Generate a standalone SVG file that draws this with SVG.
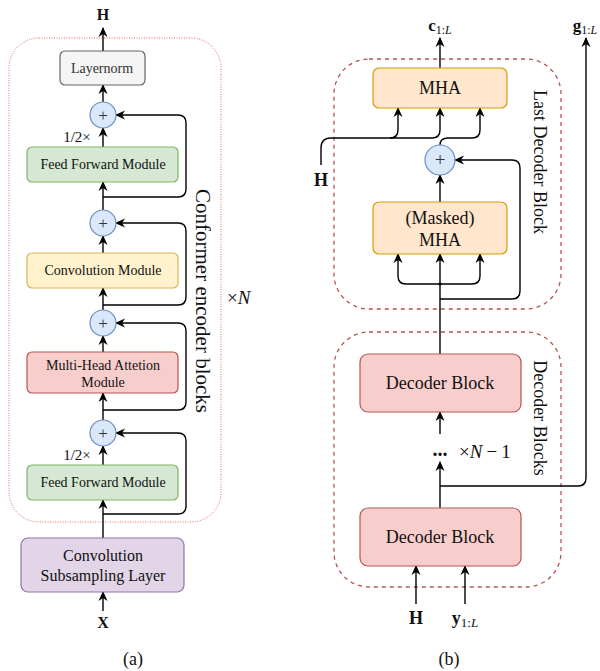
<svg xmlns="http://www.w3.org/2000/svg" width="600" height="671" viewBox="0 0 600 671" font-family="'Liberation Serif', 'Times New Roman', serif">
<style>
text{font-family:"Liberation Serif","Times New Roman",serif;fill:#111}
.t14{font-family:"Liberation Serif",serif;font-size:14px;text-anchor:middle}
.t18{font-family:"Liberation Serif",serif;font-size:18px;text-anchor:middle}
.b{font-weight:bold}
.box{stroke-width:1.2}
.ln{fill:none;stroke:#000;stroke-width:1.4}
.arr{marker-end:url(#ah)}
.plus{fill:#dae8fc;stroke:#6c8ebf;stroke-width:1.2}
.pt{font-size:17px;text-anchor:middle;fill:#333}
</style>
<defs>
<marker id="ah" viewBox="0 0 10 10" refX="9" refY="5" markerWidth="10" markerHeight="10" markerUnits="userSpaceOnUse" orient="auto">
<path d="M0,0.5 L10,5 L0,9.5 L3,5 z" fill="#000"/>
</marker>
</defs>

<!-- containers -->
<rect x="9" y="38" width="212" height="484" rx="30" fill="none" stroke="#e06666" stroke-width="1" stroke-dasharray="1 1.5"/>
<rect x="334" y="59" width="227" height="250" rx="35" fill="none" stroke="#b85450" stroke-width="1.3" stroke-dasharray="4 4"/>
<rect x="334" y="332" width="227" height="255" rx="35" fill="none" stroke="#b85450" stroke-width="1.3" stroke-dasharray="4 4"/>

<g id="connectors">
<!-- left -->
<path class="ln arr" d="M103,51 V28"/>
<path class="ln arr" d="M103,102 V85"/>
<path class="ln arr" d="M103,147 V128"/>
<path class="ln arr" d="M103,210 V182"/>
<path class="ln arr" d="M103,197 H178 Q186,197 186,189 V123 Q186,115 178,115 H116"/>
<path class="ln arr" d="M103,253 V236"/>
<path class="ln arr" d="M103,310 V288"/>
<path class="ln arr" d="M103,305 H178 Q186,305 186,297 V231 Q186,223 178,223 H116"/>
<path class="ln arr" d="M103,352 V336"/>
<path class="ln arr" d="M103,420 V393"/>
<path class="ln arr" d="M103,410 H178 Q186,410 186,402 V331 Q186,323 178,323 H116"/>
<path class="ln arr" d="M103,465 V446"/>
<path class="ln arr" d="M103,538 V500"/>
<path class="ln arr" d="M103,514 H178 Q186,514 186,506 V441 Q186,433 178,433 H116"/>
<path class="ln arr" d="M103,611 V592"/>
<!-- right -->
<path class="ln arr" d="M440,68 V38"/>
<path class="ln arr" d="M321,165 V148 Q321,138 331,138 H432 Q440,138 440,130 V108"/>
<path class="ln arr" d="M390,138 Q398,138 398,130 V108"/>
<path class="ln arr" d="M440,145 Q440,138 448,138 H472 Q480,138 480,130 V108"/>
<path class="ln arr" d="M440,299 H512 Q520,299 520,291 V168 Q520,160 512,160 H455"/>
<path class="ln arr" d="M440,202 V175"/>
<path class="ln arr" d="M440,354 V254"/>
<path class="ln arr" d="M440,284 H406 Q398,284 398,276 V254"/>
<path class="ln arr" d="M440,284 H472 Q480,284 480,276 V254"/>
<circle cx="440" cy="284" r="1.6" fill="#000"/>
<path class="ln arr" d="M440,434 V412"/>
<path class="ln arr" d="M440,508 V462"/>
<path class="ln arr" d="M440,486 H578 Q586,486 586,478 V38"/>
<path class="ln arr" d="M416,604 V566"/>
<path class="ln arr" d="M465,604 V566"/>
</g>

<!-- left nodes -->
<g id="layernorm">
<rect class="box" x="60" y="51" width="85" height="34" rx="5" fill="#f5f5f5" stroke="#666"/>
<text class="t14" x="102" y="73" style="fill:#333">Layernorm</text>
</g>
<g id="plus1"><circle class="plus" cx="103" cy="115" r="13"/><text class="pt" x="103" y="121">+</text></g>
<g id="ff1">
<rect class="box" x="27" y="147" width="151" height="35" rx="5" fill="#d5e8d4" stroke="#82b366"/>
<text class="t14" x="103" y="169">Feed Forward Module</text>
</g>
<text x="77" y="142" style="font-size:15px;text-anchor:middle">1/2×</text>
<g id="plus2"><circle class="plus" cx="103" cy="223" r="13"/><text class="pt" x="103" y="229">+</text></g>
<g id="conv">
<rect class="box" x="27" y="253" width="151" height="35" rx="5" fill="#fff2cc" stroke="#d6b656"/>
<text class="t14" x="103" y="275">Convolution Module</text>
</g>
<g id="plus3"><circle class="plus" cx="103" cy="323" r="13"/><text class="pt" x="103" y="329">+</text></g>
<g id="mha-left">
<rect class="box" x="27" y="352" width="151" height="41" rx="5" fill="#f8cecc" stroke="#b85450"/>
<text class="t14" x="103" y="370">Multi-Head Attetion</text>
<text class="t14" x="103" y="387">Module</text>
</g>
<g id="plus4"><circle class="plus" cx="103" cy="433" r="13"/><text class="pt" x="103" y="439">+</text></g>
<g id="ff2">
<rect class="box" x="27" y="465" width="151" height="35" rx="5" fill="#d5e8d4" stroke="#82b366"/>
<text class="t14" x="103" y="487">Feed Forward Module</text>
</g>
<text x="77" y="460" style="font-size:15px;text-anchor:middle">1/2×</text>
<g id="subsampling">
<rect class="box" x="21" y="538" width="163" height="54" rx="7" fill="#e1d5e7" stroke="#9673a6"/>
<text x="103" y="561" style="font-size:16px;text-anchor:middle">Convolution</text>
<text x="103" y="581" style="font-size:16px;text-anchor:middle">Subsampling Layer</text>
</g>
<text class="b" x="103" y="20" style="font-size:16px;text-anchor:middle">H</text>
<text class="b" x="103" y="628" style="font-size:16px;text-anchor:middle">X</text>
<text x="203" y="301" transform="rotate(90 203 301)" style="font-size:21px;text-anchor:middle;dominant-baseline:central">Conformer encoder blocks</text>
<text x="227" y="304" style="font-size:19px">×<tspan font-style="italic">N</tspan></text>
<text x="133" y="665" class="t18">(a)</text>

<!-- right nodes -->
<g id="mha">
<rect class="box" x="373" y="68" width="134" height="40" rx="6" fill="#ffe6cc" stroke="#d79b00"/>
<text class="t18" x="440" y="94">MHA</text>
</g>
<g id="plus5"><circle class="plus" cx="440" cy="160" r="15"/><text class="pt" x="440" y="166" style="font-size:19px">+</text></g>
<g id="masked-mha">
<rect class="box" x="373" y="202" width="134" height="52" rx="6" fill="#ffe6cc" stroke="#d79b00"/>
<text class="t18" x="440" y="224">(Masked)</text>
<text class="t18" x="440" y="246">MHA</text>
</g>
<g id="dec1">
<rect class="box" x="360" y="354" width="161" height="58" rx="8" fill="#f8cecc" stroke="#b85450"/>
<text class="t18" x="440" y="389">Decoder Block</text>
</g>
<g id="dec2">
<rect class="box" x="360" y="508" width="161" height="58" rx="8" fill="#f8cecc" stroke="#b85450"/>
<text class="t18" x="440" y="543">Decoder Block</text>
</g>
<text class="b" x="440" y="456" style="font-size:20px;text-anchor:middle">...</text>
<text x="459" y="458" style="font-size:19px">×<tspan font-style="italic">N</tspan><tspan dx="4">−</tspan><tspan dx="4">1</tspan></text>
<text x="540" y="162" transform="rotate(90 540 162)" style="font-size:18px;text-anchor:middle;dominant-baseline:central">Last Decoder Block</text>
<text x="540" y="418" transform="rotate(90 540 418)" style="font-size:18px;text-anchor:middle;dominant-baseline:central">Decoder Blocks</text>
<text x="440" y="31" style="font-size:17px;text-anchor:middle"><tspan font-weight="bold">c</tspan><tspan font-size="12" dy="3">1:<tspan font-style="italic">L</tspan></tspan></text>
<text x="585" y="31" style="font-size:17px;text-anchor:middle"><tspan font-weight="bold">g</tspan><tspan font-size="12" dy="3">1:<tspan font-style="italic">L</tspan></tspan></text>
<text class="b" x="321" y="186" style="font-size:18px;text-anchor:middle">H</text>
<text class="b" x="416" y="624" style="font-size:18px;text-anchor:middle">H</text>
<text x="465" y="624" style="font-size:18px;text-anchor:middle"><tspan font-weight="bold">y</tspan><tspan font-size="13" dy="3">1:<tspan font-style="italic">L</tspan></tspan></text>
<text x="449" y="665" class="t18">(b)</text>
</svg>
